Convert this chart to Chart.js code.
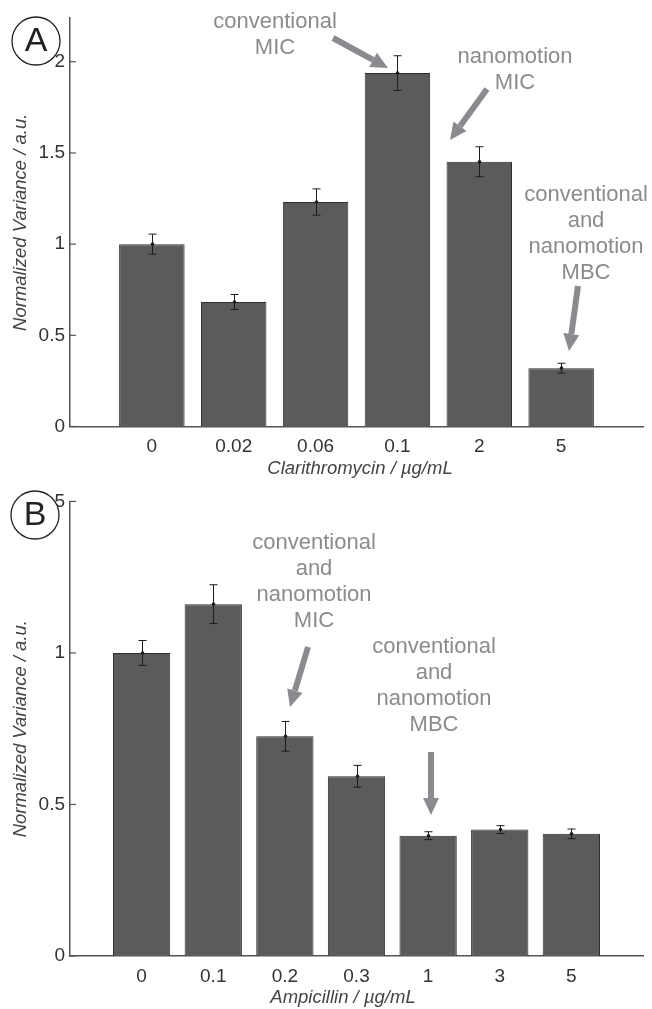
<!DOCTYPE html>
<html>
<head>
<meta charset="utf-8">
<script src="https://cdn.jsdelivr.net/npm/chart.js@4.4.1/dist/chart.umd.min.js"></script>
<style>
  body { margin: 0; background: #fff; }
  .panel { position: absolute; left: 0; width: 652px; }
  #wrapA { top: 0; height: 485px; }
  #wrapB { top: 485px; height: 524px; }
</style>
</head>
<body>
<div class="panel" id="wrapA"><canvas id="chartA" width="652" height="485"></canvas></div>
<div class="panel" id="wrapB"><canvas id="chartB" width="652" height="524"></canvas></div>
<script>
// panel A - clarithromycin
var clariLabels = ['0', '0.02', '0.06', '0.1', '2', '5'];
var clariValues = [1.00, 0.683, 1.231, 1.938, 1.452, 0.320];
var clariErrors = [0.055, 0.041, 0.072, 0.095, 0.082, 0.027];

// panel B - ampicillin
var ampiLabels = ['0', '0.1', '0.2', '0.3', '1', '3', '5'];
var ampiValues = [1.00, 1.161, 0.725, 0.593, 0.397, 0.417, 0.403];
var ampiErrors = [0.041, 0.064, 0.049, 0.036, 0.013, 0.013, 0.016];

var yTicksA = [0, 0.5, 1, 1.5, 2];
var yTicksB = [0, 0.5, 1, 1.5];

var FONT = '"Liberation Sans", Arial, Helvetica, sans-serif';
var annoColor = '#8b8b8f';
var axisColor = '#555555';

// annotation texts and arrows, in canvas pixels
var annoA = {
    texts: [
        {x: 275, y: 22, lines: ['conventional', 'MIC']},
        {x: 515, y: 57, lines: ['nanomotion', 'MIC']},
        {x: 586, y: 195, lines: ['conventional', 'and', 'nanomotion', 'MBC']}
    ],
    arrows: [
        [333, 38, 388, 68],
        [487, 89, 450, 140],
        [578, 286, 569, 351]
    ]
};
var annoB = {
    texts: [
        {x: 314, y: 58, lines: ['conventional', 'and', 'nanomotion', 'MIC']},
        {x: 434, y: 162, lines: ['conventional', 'and', 'nanomotion', 'MBC']}
    ],
    arrows: [
        [308, 162, 290, 222],
        [431, 267, 431, 330]
    ]
};

function drawArrow(ctx, x1, y1, x2, y2) {
    var ang = Math.atan2(y2 - y1, x2 - x1);
    var headLen = 17, headW = 8;
    var bx = x2 - headLen * Math.cos(ang);
    var by = y2 - headLen * Math.sin(ang);
    ctx.save();
    ctx.strokeStyle = annoColor;
    ctx.fillStyle = annoColor;
    ctx.lineWidth = 6;
    ctx.beginPath();
    ctx.moveTo(x1, y1);
    ctx.lineTo(bx, by);
    ctx.stroke();
    ctx.beginPath();
    ctx.moveTo(x2, y2);
    ctx.lineTo(bx + headW * Math.sin(ang), by - headW * Math.cos(ang));
    ctx.lineTo(bx - headW * Math.sin(ang), by + headW * Math.cos(ang));
    ctx.closePath();
    ctx.fill();
    ctx.restore();
}

var extrasPlugin = {
    id: 'extras',
    afterDatasetsDraw: function(chart, args, opts) {
        var ctx = chart.ctx;
        var xs = chart.scales.x, ys = chart.scales.y;
        var area = chart.chartArea;

        // error bars
        ctx.save();
        ctx.strokeStyle = '#1c1c1c';
        ctx.fillStyle = '#1c1c1c';
        ctx.lineWidth = 1;
        for (var i = 0; i < opts.values.length; i++) {
            var px = Math.round(xs.getPixelForValue(i + 1)) + 0.5;
            var top = ys.getPixelForValue(opts.values[i] + opts.errors[i]);
            var bot = ys.getPixelForValue(opts.values[i] - opts.errors[i]);
            var mid = ys.getPixelForValue(opts.values[i]);
            ctx.beginPath();
            ctx.moveTo(px, top); ctx.lineTo(px, bot);
            ctx.moveTo(px - 4, top); ctx.lineTo(px + 4, top);
            ctx.moveTo(px - 4, bot); ctx.lineTo(px + 4, bot);
            ctx.stroke();
            ctx.beginPath();
            ctx.arc(px, mid, 1.8, 0, Math.PI * 2);
            ctx.fill();
        }
        ctx.restore();

        // inward tick marks on y axis
        ctx.save();
        ctx.strokeStyle = axisColor;
        ctx.lineWidth = 1.2;
        ys.ticks.forEach(function(t) {
            var py = ys.getPixelForValue(t.value);
            ctx.beginPath();
            ctx.moveTo(area.left, py);
            ctx.lineTo(area.left + 6, py);
            ctx.stroke();
        });
        ctx.restore();

        // axis titles
        ctx.save();
        ctx.fillStyle = '#444';
        ctx.font = 'italic 18.5px ' + FONT;
        ctx.textAlign = 'center';
        ctx.textBaseline = 'middle';
        ctx.fillText(opts.xTitle, opts.xTitleX, area.bottom + opts.xTitleDy);
        ctx.translate(21, (area.top + area.bottom) / 2);
        ctx.rotate(-Math.PI / 2);
        ctx.fillText('Normalized Variance / a.u.', 0, 0);
        ctx.restore();

        // annotations
        ctx.save();
        ctx.fillStyle = annoColor;
        ctx.font = '22px ' + FONT;
        ctx.textAlign = 'center';
        ctx.textBaseline = 'middle';
        opts.anno.texts.forEach(function(t) {
            t.lines.forEach(function(line, k) {
                ctx.fillText(line, t.x, t.y + k * 26);
            });
        });
        ctx.restore();
        opts.anno.arrows.forEach(function(a) {
            drawArrow(ctx, a[0], a[1], a[2], a[3]);
        });

        // panel letter
        ctx.save();
        ctx.beginPath();
        ctx.arc(opts.letterX, opts.letterY, 24, 0, Math.PI * 2);
        ctx.fillStyle = '#fff';
        ctx.fill();
        ctx.strokeStyle = '#222';
        ctx.lineWidth = 1.3;
        ctx.stroke();
        ctx.fillStyle = '#222';
        ctx.font = '34px ' + FONT;
        ctx.textAlign = 'center';
        ctx.textBaseline = 'middle';
        ctx.fillText(opts.letter, opts.letterX, opts.letterY + 1);
        ctx.restore();
    }
};

function makeChart(id, labels, values, errors, yMax, yTicks, canvasH, topPad, bottomPx, extras) {
    var points = [];
    for (var i = 0; i < values.length; i++) {
        points.push({x: i + 1, y: values[i]});
    }
    extras.values = values;
    extras.errors = errors;

    return new Chart(document.getElementById(id), {
        type: 'bar',
        data: {
            datasets: [{
                data: points,
                backgroundColor: '#5b5b5d',
                borderColor: '#2e2e2e',
                borderWidth: 1,
                barPercentage: 0.8,
                categoryPercentage: 1.0
            }]
        },
        options: {
            responsive: false,
            animation: false,
            layout: { padding: { top: topPad, right: 4, left: 0, bottom: 0 } },
            plugins: {
                legend: { display: false },
                tooltip: { enabled: false },
                extras: extras
            },
            scales: {
                x: {
                    type: 'linear',
                    min: 0,
                    max: labels.length + 1,
                    offset: false,
                    grid: { display: false, offset: false, drawTicks: false },
                    border: { display: true, color: axisColor, width: 1.5 },
                    afterBuildTicks: function(scale) {
                        var t = [];
                        for (var k = 0; k <= labels.length + 1; k++) t.push({value: k});
                        scale.ticks = t;
                    },
                    ticks: {
                        autoSkip: false,
                        maxRotation: 0,
                        padding: 9,
                        color: '#333',
                        font: { family: FONT, size: 19 },
                        callback: function(v) { return labels[v - 1] || ''; }
                    },
                    afterFit: function(scale) { scale.height = canvasH - bottomPx; }
                },
                y: {
                    min: 0,
                    max: yMax,
                    grid: { display: false, drawTicks: false },
                    border: { display: true, color: axisColor, width: 1.5 },
                    afterBuildTicks: function(scale) {
                        scale.ticks = yTicks.map(function(v) { return {value: v}; });
                    },
                    ticks: {
                        padding: 5,
                        color: '#333',
                        font: { family: FONT, size: 19 },
                        callback: function(v) { return String(v); }
                    },
                    afterFit: function(scale) { scale.width = 70; }
                }
            }
        },
        plugins: [extrasPlugin]
    });
}

makeChart('chartA', clariLabels, clariValues, clariErrors, 2.24, yTicksA, 485, 18, 426.5, {
    anno: annoA,
    xTitle: 'Clarithromycin / \u00b5g/mL',
    xTitleX: 360,
    xTitleDy: 42,
    letter: 'A',
    letterX: 36,
    letterY: 41
});

makeChart('chartB', ampiLabels, ampiValues, ampiErrors, 1.5, yTicksB, 524, 15, 471, {
    anno: annoB,
    xTitle: 'Ampicillin / \u00b5g/mL',
    xTitleX: 343,
    xTitleDy: 42,
    letter: 'B',
    letterX: 35,
    letterY: 30
});
</script>
</body>
</html>
